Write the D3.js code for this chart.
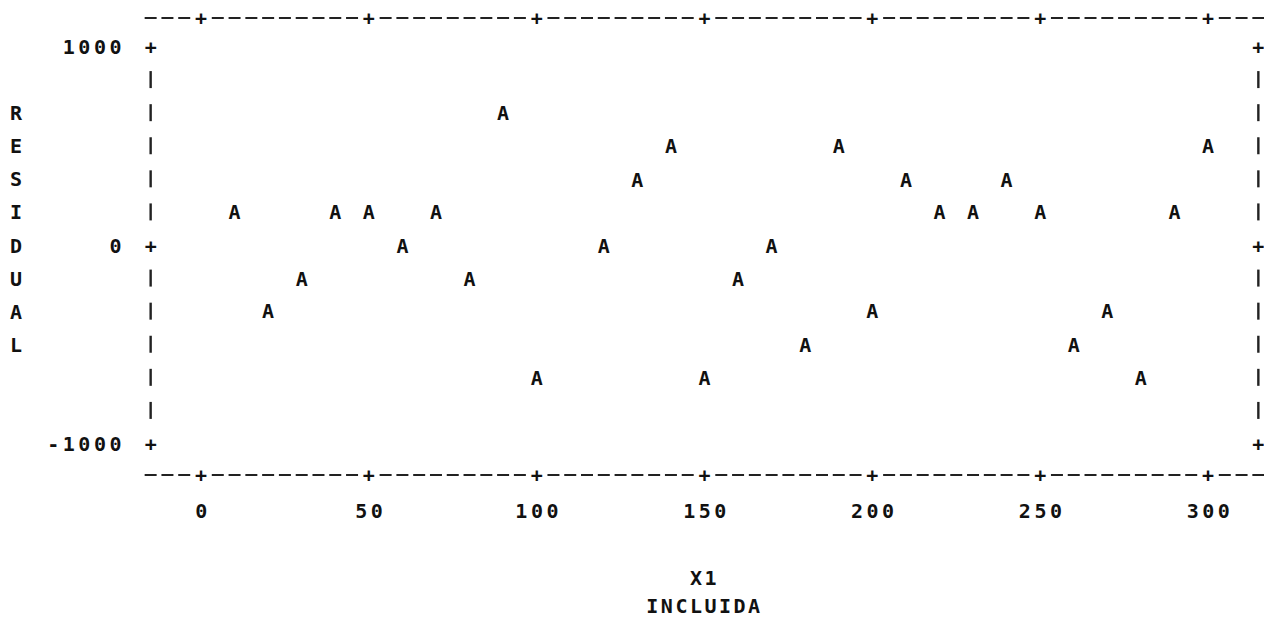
<!DOCTYPE html>
<html>
<head>
<meta charset="utf-8">
<script src="https://cdn.jsdelivr.net/npm/d3@7"></script>
<style>
  body { margin: 0; background: #fff; }
  svg text { font-family: "DejaVu Sans Mono", "Liberation Mono", monospace; font-weight: bold; fill: #111; }
</style>
</head>
<body>
<svg id="plot"></svg>
<script>
// Printer plot data: residual vs X1
const x1 = [10, 20, 30, 40, 50, 60, 70, 80, 90, 100, 120, 130, 140, 150, 160,
    170, 180, 190, 200, 210, 220, 230, 240, 250, 260, 270, 280, 290, 300];
const residual = [170, -330, -170, 170, 170, 0, 170, -170, 670, -670, 0, 330, 500, -670, -170,
    0, -500, 500, -330, 330, 170, 170, 330, 170, -500, -330, -670, 170, 500];
const xTicks = [0, 50, 100, 150, 200, 250, 300];
const yTicks = [1000, 0, -1000];
const yLabel = "RESIDUAL";
const xLabel = ["X1", "INCLUIDA"];

const width = 1264, height = 629;
const svg = d3.select("#plot").attr("width", width).attr("height", height);

const x = d3.scaleLinear().domain([0, 300]).range([201, 1208]);
const y = d3.scaleLinear().domain([-1000, 1000]).range([444, 47]);

const rowStep = 1000 / 6;  // one printer line
const colStep = 5;         // one printer column
const rows = d3.range(-6, 7).map(i => i * rowStep);
const cols = d3.range(-15, 316, colStep);
const xLeft = x(-15), xRight = x(315);
const yTop = 18, yBottom = 475;
const fs = 20;

// top and bottom frame: dashes with + at ticks
[yTop, yBottom].forEach(yy => {
    svg.append("g").selectAll("line")
        .data(cols.filter(c => !xTicks.includes(c)))
        .enter().append("line")
        .attr("x1", d => x(d) - 6).attr("x2", d => x(d) + 6)
        .attr("y1", yy).attr("y2", yy)
        .attr("stroke", "#222").attr("stroke-width", 2);
    svg.append("g").selectAll("text")
        .data(xTicks)
        .enter().append("text")
        .attr("x", d => x(d)).attr("y", yy)
        .attr("dy", "0.35em").attr("text-anchor", "middle")
        .attr("font-size", fs).text("+");
    // tail of dashes past the last column
    svg.append("line")
        .attr("x1", xRight + 10).attr("x2", width).attr("y1", yy).attr("y2", yy)
        .attr("stroke", "#222").attr("stroke-width", 2);
});

// left and right frame: | with + at ticks
[xLeft, xRight].forEach(xx => {
    svg.append("g").selectAll("line")
        .data(rows.filter(r => !yTicks.some(t => Math.abs(t - r) < 1)))
        .enter().append("line")
        .attr("x1", xx).attr("x2", xx)
        .attr("y1", d => y(d) - 9).attr("y2", d => y(d) + 8)
        .attr("stroke", "#222").attr("stroke-width", 2.4);
    svg.append("g").selectAll("text")
        .data(yTicks)
        .enter().append("text")
        .attr("x", xx).attr("y", d => y(d))
        .attr("dy", "0.35em").attr("text-anchor", "middle")
        .attr("font-size", fs).text("+");
});

// y tick labels
svg.append("g").selectAll("text")
    .data(yTicks)
    .enter().append("text")
    .attr("x", 125).attr("y", d => y(d))
    .attr("dy", "0.35em").attr("text-anchor", "end")
    .attr("font-size", fs).attr("letter-spacing", 3.5)
    .text(d => d);

// x tick labels
svg.append("g").selectAll("text")
    .data(xTicks)
    .enter().append("text")
    .attr("x", d => x(d) + 2).attr("y", 511)
    .attr("dy", "0.35em").attr("text-anchor", "middle")
    .attr("font-size", fs).attr("letter-spacing", 3.5)
    .text(d => d);

// vertical y label, one letter per printer line
svg.append("g").selectAll("text")
    .data(yLabel.split(""))
    .enter().append("text")
    .attr("x", 16).attr("y", (d, i) => y(4 * rowStep - i * rowStep))
    .attr("dy", "0.35em").attr("text-anchor", "middle")
    .attr("font-size", fs).text(d => d);

// x label lines
svg.append("g").selectAll("text")
    .data(xLabel)
    .enter().append("text")
    .attr("x", x(150)).attr("y", (d, i) => 578 + i * 28)
    .attr("dy", "0.35em").attr("text-anchor", "middle")
    .attr("font-size", fs).attr("letter-spacing", 2.5)
    .text(d => d);

// plotted points as the letter A
svg.append("g").selectAll("text")
    .data(x1.map((v, i) => ({ x: v, r: residual[i] })))
    .enter().append("text")
    .attr("x", d => x(d.x)).attr("y", d => y(d.r))
    .attr("dy", "0.35em").attr("text-anchor", "middle")
    .attr("font-size", fs).text("A");
</script>
</body>
</html>
